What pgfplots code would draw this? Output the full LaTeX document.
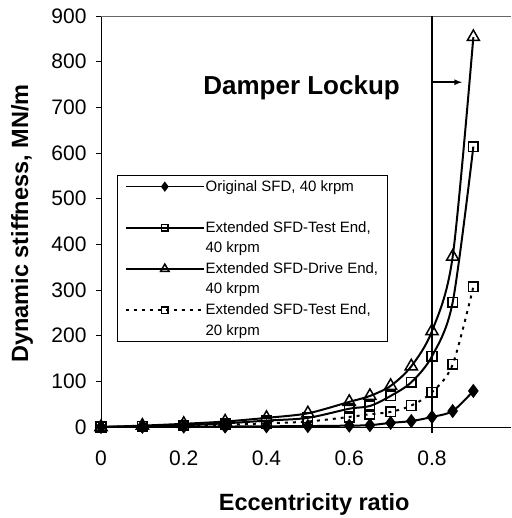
\documentclass[border=0pt]{standalone}
\usepackage{pgfplots}
\pgfplotsset{compat=1.18}
\usepackage{fontspec}
\setmainfont{Liberation Sans}
\begin{document}
\begin{tikzpicture}[x=1pt,y=1pt]
\useasboundingbox (-101,-91) rectangle (410,427);
\begin{axis}[
  at={(0,0)}, anchor=south west,
  scale only axis, width=410pt, height=411pt,
  xmin=0, xmax=0.991, ymin=0, ymax=900,
  axis lines=left, axis line style={-, black, line width=0.8pt},
  xtick={0,0.2,0.4,0.6,0.8},
  xticklabels={0,0.2,0.4,0.6,0.8},
  ytick={0,100,...,900},
  x tick style={draw=none},
  y tick style={black, line width=0.8pt},
  tick align=outside, major tick length=5pt,
  tick label style={font=\fontsize{21}{23}\selectfont},
  /pgf/number format/assume math mode=true,
  xticklabel style={yshift=-15pt},
  yticklabel style={xshift=-6pt},
  xlabel={\textbf{Eccentricity ratio}},
  ylabel={\textbf{Dynamic stiffness, MN/m}},
  label style={font=\fontsize{23.5}{26}\selectfont},
  xlabel style={at={(axis description cs:0.52,0)}, anchor=base, yshift=-83pt},
  ylabel style={at={(axis description cs:0,0.495)}, anchor=center, yshift=79pt},
  clip=false,
  legend style={at={(axis cs:0.038,552)}, anchor=north west,
    draw=black, line width=0.6pt, fill=white,
    font=\fontsize{15}{20.5}\selectfont,
    inner xsep=8pt, inner ysep=4pt,
    nodes={align=left, inner sep=1pt},
    row sep=6.3pt},
  legend cell align=left,
  legend image code/.code={\draw[mark repeat=2,mark phase=2,yshift=10pt,line width=1.6pt,every mark/.append style={scale=0.7}] plot coordinates {(0pt,0pt) (39pt,0pt) (78pt,0pt)};},
]
\addplot[black, line width=2pt, smooth, mark=diamond*, mark size=5.5pt, mark options={solid, fill=black}]
 coordinates {(0,0) (0.1,0.5) (0.2,1) (0.3,1) (0.4,1.5) (0.5,2) (0.6,3) (0.65,4) (0.7,9) (0.75,13) (0.8,22) (0.85,35) (0.9,79)};
\addlegendentry{Original SFD, 40 krpm\\\mbox{}}
\addplot[black, line width=2pt, smooth, mark=square, mark size=4.8pt, mark options={solid, line width=1.5pt}]
 coordinates {(0,0) (0.1,2) (0.2,4) (0.3,8) (0.4,14) (0.5,20) (0.6,40) (0.65,46) (0.7,68) (0.75,98) (0.8,155) (0.85,273) (0.9,614)};
\addlegendentry{Extended SFD-Test End,\\40 krpm}
\addplot[black, line width=2pt, smooth, mark=triangle, mark size=7pt, mark options={solid, line width=1.5pt}]
 coordinates {(0,0) (0.1,3) (0.2,7) (0.3,12) (0.4,20) (0.5,30) (0.6,55) (0.65,68) (0.7,90) (0.75,133) (0.8,210) (0.85,373) (0.9,854)};
\addlegendentry{Extended SFD-Drive End,\hspace{19pt}\\40 krpm}
\addplot[black, line width=2pt, smooth, dash pattern=on 3pt off 5pt, mark=square, mark size=4.8pt, mark options={solid, line width=1.5pt}]
 coordinates {(0,0) (0.1,1) (0.2,3) (0.3,5) (0.4,8) (0.5,12) (0.6,22) (0.65,28) (0.7,33) (0.75,47) (0.8,76) (0.85,137) (0.9,307)};
\addlegendentry{Extended SFD-Test End,\\20 krpm}
\draw[black!60, line width=0.8pt] (rel axis cs:0,1) -- (rel axis cs:1,1);
\draw[black, line width=1.6pt] (axis cs:0.8,-13) -- (axis cs:0.8,900);
\draw[black, line width=0.8pt] (axis cs:0,0) -- (axis cs:0,-13);
\draw[black, line width=1.6pt, -latex] (axis cs:0.8,755) -- (axis cs:0.8725,755);
\node[anchor=base east, inner sep=0pt, font=\fontsize{26}{28}\selectfont\bfseries] at (axis cs:0.7227,727) {Damper Lockup};
\end{axis}
\end{tikzpicture}
\end{document}
